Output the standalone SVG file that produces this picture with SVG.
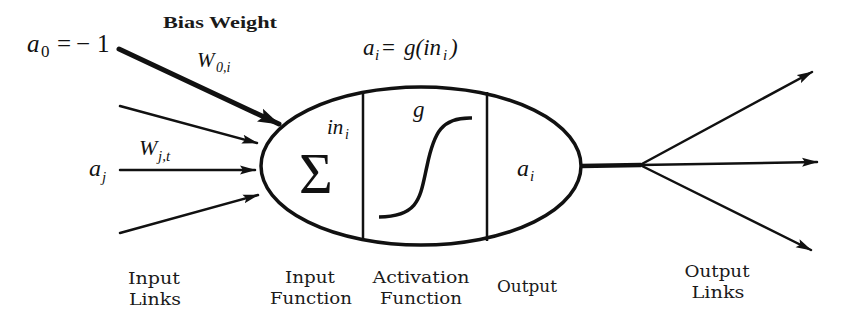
<svg xmlns="http://www.w3.org/2000/svg" width="843" height="331" viewBox="0 0 843 331">
<style>
.m{font-family:"Liberation Serif","Times New Roman",serif;font-style:italic;fill:#111}
.u{font-family:"Liberation Serif","Times New Roman",serif;font-style:normal;fill:#111}
.lb{font-family:"DejaVu Serif","Liberation Serif",serif;font-size:16px;fill:#1a1a1a;text-anchor:middle}
.bw{font-family:"Liberation Serif","DejaVu Serif",serif;font-weight:bold;font-size:17px;fill:#1a1a1a}
.ln{stroke:#111;stroke-width:2.5;fill:none;stroke-linecap:round}
.thick{stroke:#111;stroke-width:5;fill:none;stroke-linecap:round}
.shape{stroke:#111;stroke-width:3.5;fill:none}
.div{stroke:#111;stroke-width:2.5}
</style>
<defs>
<marker id="ah" markerUnits="userSpaceOnUse" markerWidth="16" markerHeight="10" refX="15" refY="5" orient="auto">
<path d="M0,0.5 L16,5 L0,9.5 L3,5 Z" fill="#111"/>
</marker>
<marker id="ahb" markerUnits="userSpaceOnUse" markerWidth="22" markerHeight="16" refX="21" refY="8" orient="auto">
<path d="M0,1 L22,8 L0,15 L4,8 Z" fill="#111"/>
</marker>
</defs>
<rect width="843" height="331" fill="#fff"/>

<g id="connectors">
<line class="thick" x1="119" y1="49" x2="279" y2="124" marker-end="url(#ahb)"/>
<line class="ln" x1="120" y1="106" x2="257" y2="143" marker-end="url(#ah)"/>
<line class="ln" x1="120" y1="170" x2="255" y2="170" marker-end="url(#ah)"/>
<line class="ln" x1="120" y1="233" x2="258" y2="195" marker-end="url(#ah)"/>
<line x1="581" y1="166" x2="641" y2="165" stroke="#111" stroke-width="4.5"/>
<line class="ln" x1="640" y1="165" x2="812" y2="72" marker-end="url(#ah)"/>
<line class="ln" x1="640" y1="165" x2="817" y2="162" marker-end="url(#ah)"/>
<line class="ln" x1="640" y1="165" x2="811" y2="250" marker-end="url(#ah)"/>
</g>

<g id="bias-input">
<text class="bw" x="163" y="28" textLength="114" lengthAdjust="spacingAndGlyphs">Bias Weight</text>
<text class="m" y="52" font-size="25"><tspan x="27">a</tspan><tspan class="u" x="41" y="57" font-size="17">0</tspan><tspan class="u" x="57" y="52">=</tspan><tspan class="u" x="76">−</tspan><tspan class="u" x="97">1</tspan></text>
<text class="m" y="67" font-size="21"><tspan x="197">W</tspan><tspan x="216" y="72" font-size="14">0,i</tspan></text>
</g>

<g id="input-j">
<text class="m" y="176" font-size="24"><tspan x="89">a</tspan><tspan x="102" y="182" font-size="15">j</tspan></text>
<text class="m" y="155" font-size="22"><tspan x="139">W</tspan><tspan x="158" y="161" font-size="15">j,t</tspan></text>
</g>

<g id="neuron">
<ellipse class="shape" cx="421" cy="166" rx="160" ry="79"/>
<line class="div" x1="363" y1="93" x2="363" y2="240"/>
<line class="div" x1="487" y1="92" x2="487" y2="241"/>
<text class="u" x="299" y="193" font-size="58">Σ</text>
<text class="m" y="134" font-size="21"><tspan x="327">in</tspan><tspan x="345" y="139" font-size="14">i</tspan></text>
<text class="m" x="413" y="117" font-size="23">g</text>
<path d="M379,217 C420,216 420,197 427,166 C434,132 442,117 472,118" stroke="#111" stroke-width="3.5" fill="none"/>
<text class="m" y="176" font-size="24"><tspan x="517">a</tspan><tspan x="530" y="181" font-size="15">i</tspan></text>
</g>

<g id="formula">
<text class="m" y="55" font-size="23"><tspan x="363">a</tspan><tspan x="375" y="60" font-size="15">i</tspan><tspan class="u" x="382" y="55">=</tspan><tspan x="404">g(in</tspan><tspan x="443" y="60" font-size="15">i</tspan><tspan x="450" y="55">)</tspan></text>
</g>

<g id="labels">
<text class="lb" x="154" y="284" textLength="52" lengthAdjust="spacingAndGlyphs">Input</text>
<text class="lb" x="155" y="305" textLength="52" lengthAdjust="spacingAndGlyphs">Links</text>
<text class="lb" x="310" y="283" textLength="50" lengthAdjust="spacingAndGlyphs">Input</text>
<text class="lb" x="311" y="304" textLength="82" lengthAdjust="spacingAndGlyphs">Function</text>
<text class="lb" x="421" y="283" textLength="97" lengthAdjust="spacingAndGlyphs">Activation</text>
<text class="lb" x="421" y="304" textLength="82" lengthAdjust="spacingAndGlyphs">Function</text>
<text class="lb" x="527" y="292" textLength="60" lengthAdjust="spacingAndGlyphs">Output</text>
<text class="lb" x="717" y="277" textLength="65" lengthAdjust="spacingAndGlyphs">Output</text>
<text class="lb" x="718" y="298" textLength="53" lengthAdjust="spacingAndGlyphs">Links</text>
</g>
</svg>
